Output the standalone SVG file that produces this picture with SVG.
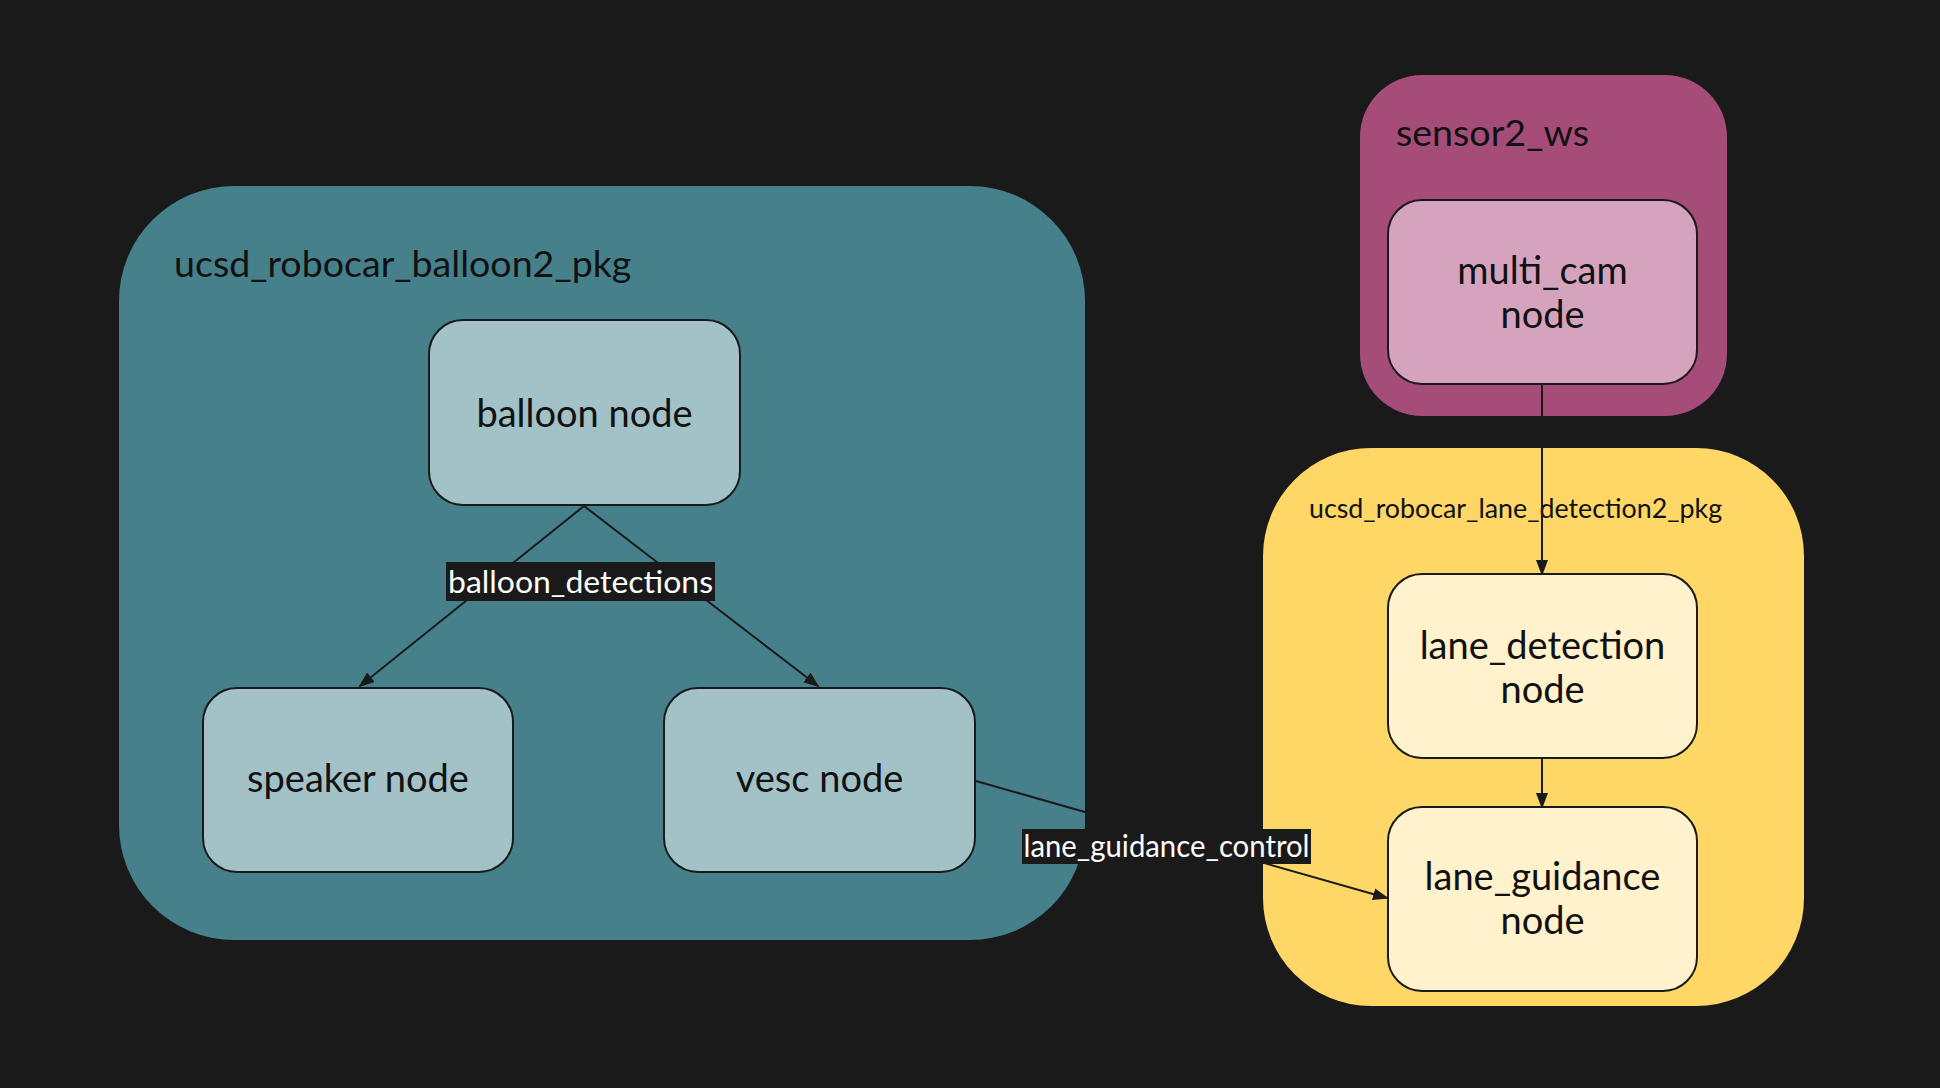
<svg xmlns="http://www.w3.org/2000/svg" width="1940" height="1088" viewBox="0 0 1940 1088">
<defs>
<style>
.bg{fill:#1a1a1a}
.cl-text{font-family:Lato,"Liberation Sans",sans-serif;fill:#111111}
.node rect{stroke:#1a1a1a;stroke-width:2}
.node text{font-family:Lato,"Liberation Sans",sans-serif;font-size:38px;fill:#111111;text-anchor:middle}
.teal-node{fill:#a2c2c7}
.edge{stroke:#1a1a1a;stroke-width:2;fill:none;marker-end:url(#arrow)}
.elabel rect{fill:#1a1a1a}
.elabel text{font-family:Lato,"Liberation Sans",sans-serif;font-size:31px;fill:#ffffff;text-anchor:middle}
</style>
<marker id="arrow" markerUnits="userSpaceOnUse" markerWidth="18" markerHeight="14" refX="14" refY="6" orient="auto">
<path d="M0,0 L16,6 L0,12 Z" fill="#1a1a1a"/>
</marker>
</defs>
<rect class="bg" x="0" y="0" width="1940" height="1088"/>

<g id="cluster_balloon">
<rect x="119" y="186" width="966" height="754" rx="115" ry="115" fill="#45808b"/>
<text class="cl-text" x="174" y="277" font-size="37.6">ucsd_robocar_balloon2_pkg</text>
</g>
<g id="cluster_sensor">
<rect x="1360" y="75" width="367" height="341" rx="62" ry="62" fill="#a54c78"/>
<text class="cl-text" x="1396" y="146" font-size="37.6">sensor2_ws</text>
</g>
<g id="cluster_lane">
<rect x="1263" y="448" width="541" height="558" rx="108" ry="108" fill="#fed766"/>
<text class="cl-text" x="1309" y="518" font-size="26.8">ucsd_robocar_lane_detection2_pkg</text>
</g>

<g id="connectors">
<line class="edge" x1="584" y1="506" x2="360" y2="686"/>
<line class="edge" x1="584" y1="506" x2="818" y2="686"/>
<line class="edge" x1="1542" y1="384" x2="1542" y2="574"/>
<line class="edge" x1="1542" y1="759" x2="1542" y2="807"/>
<line class="edge" x1="976" y1="781" x2="1387" y2="898"/>
<g class="elabel">
<rect x="446" y="562" width="269" height="39"/>
<text x="580.5" y="593" textLength="265" lengthAdjust="spacingAndGlyphs">balloon_detections</text>
</g>
<g class="elabel">
<rect x="1022" y="829" width="289" height="35"/>
<text x="1166.5" y="857" textLength="286" lengthAdjust="spacingAndGlyphs">lane_guidance_control</text>
</g>
</g>

<g id="balloon_node" class="node">
<rect class="teal-node" x="429" y="320" width="311" height="185" rx="34" ry="34"/>
<text x="584.5" y="427">balloon node</text>
</g>
<g id="speaker_node" class="node">
<rect class="teal-node" x="203" y="688" width="310" height="184" rx="34" ry="34"/>
<text x="358" y="792">speaker node</text>
</g>
<g id="vesc_node" class="node">
<rect class="teal-node" x="664" y="688" width="311" height="184" rx="34" ry="34"/>
<text x="819.5" y="792">vesc node</text>
</g>
<g id="multi_cam_node" class="node">
<rect x="1388" y="200" width="309" height="184" rx="34" ry="34" fill="#d6a3bf"/>
<text x="1542.5" y="284">multi_cam</text>
<text x="1542.5" y="328">node</text>
</g>
<g id="lane_detection_node" class="node">
<rect x="1388" y="574" width="309" height="184" rx="34" ry="34" fill="#fff2cc"/>
<text x="1542.5" y="659">lane_detection</text>
<text x="1542.5" y="703">node</text>
</g>
<g id="lane_guidance_node" class="node">
<rect x="1388" y="807" width="309" height="184" rx="34" ry="34" fill="#fff2cc"/>
<text x="1542.5" y="890">lane_guidance</text>
<text x="1542.5" y="934">node</text>
</g>
</svg>
